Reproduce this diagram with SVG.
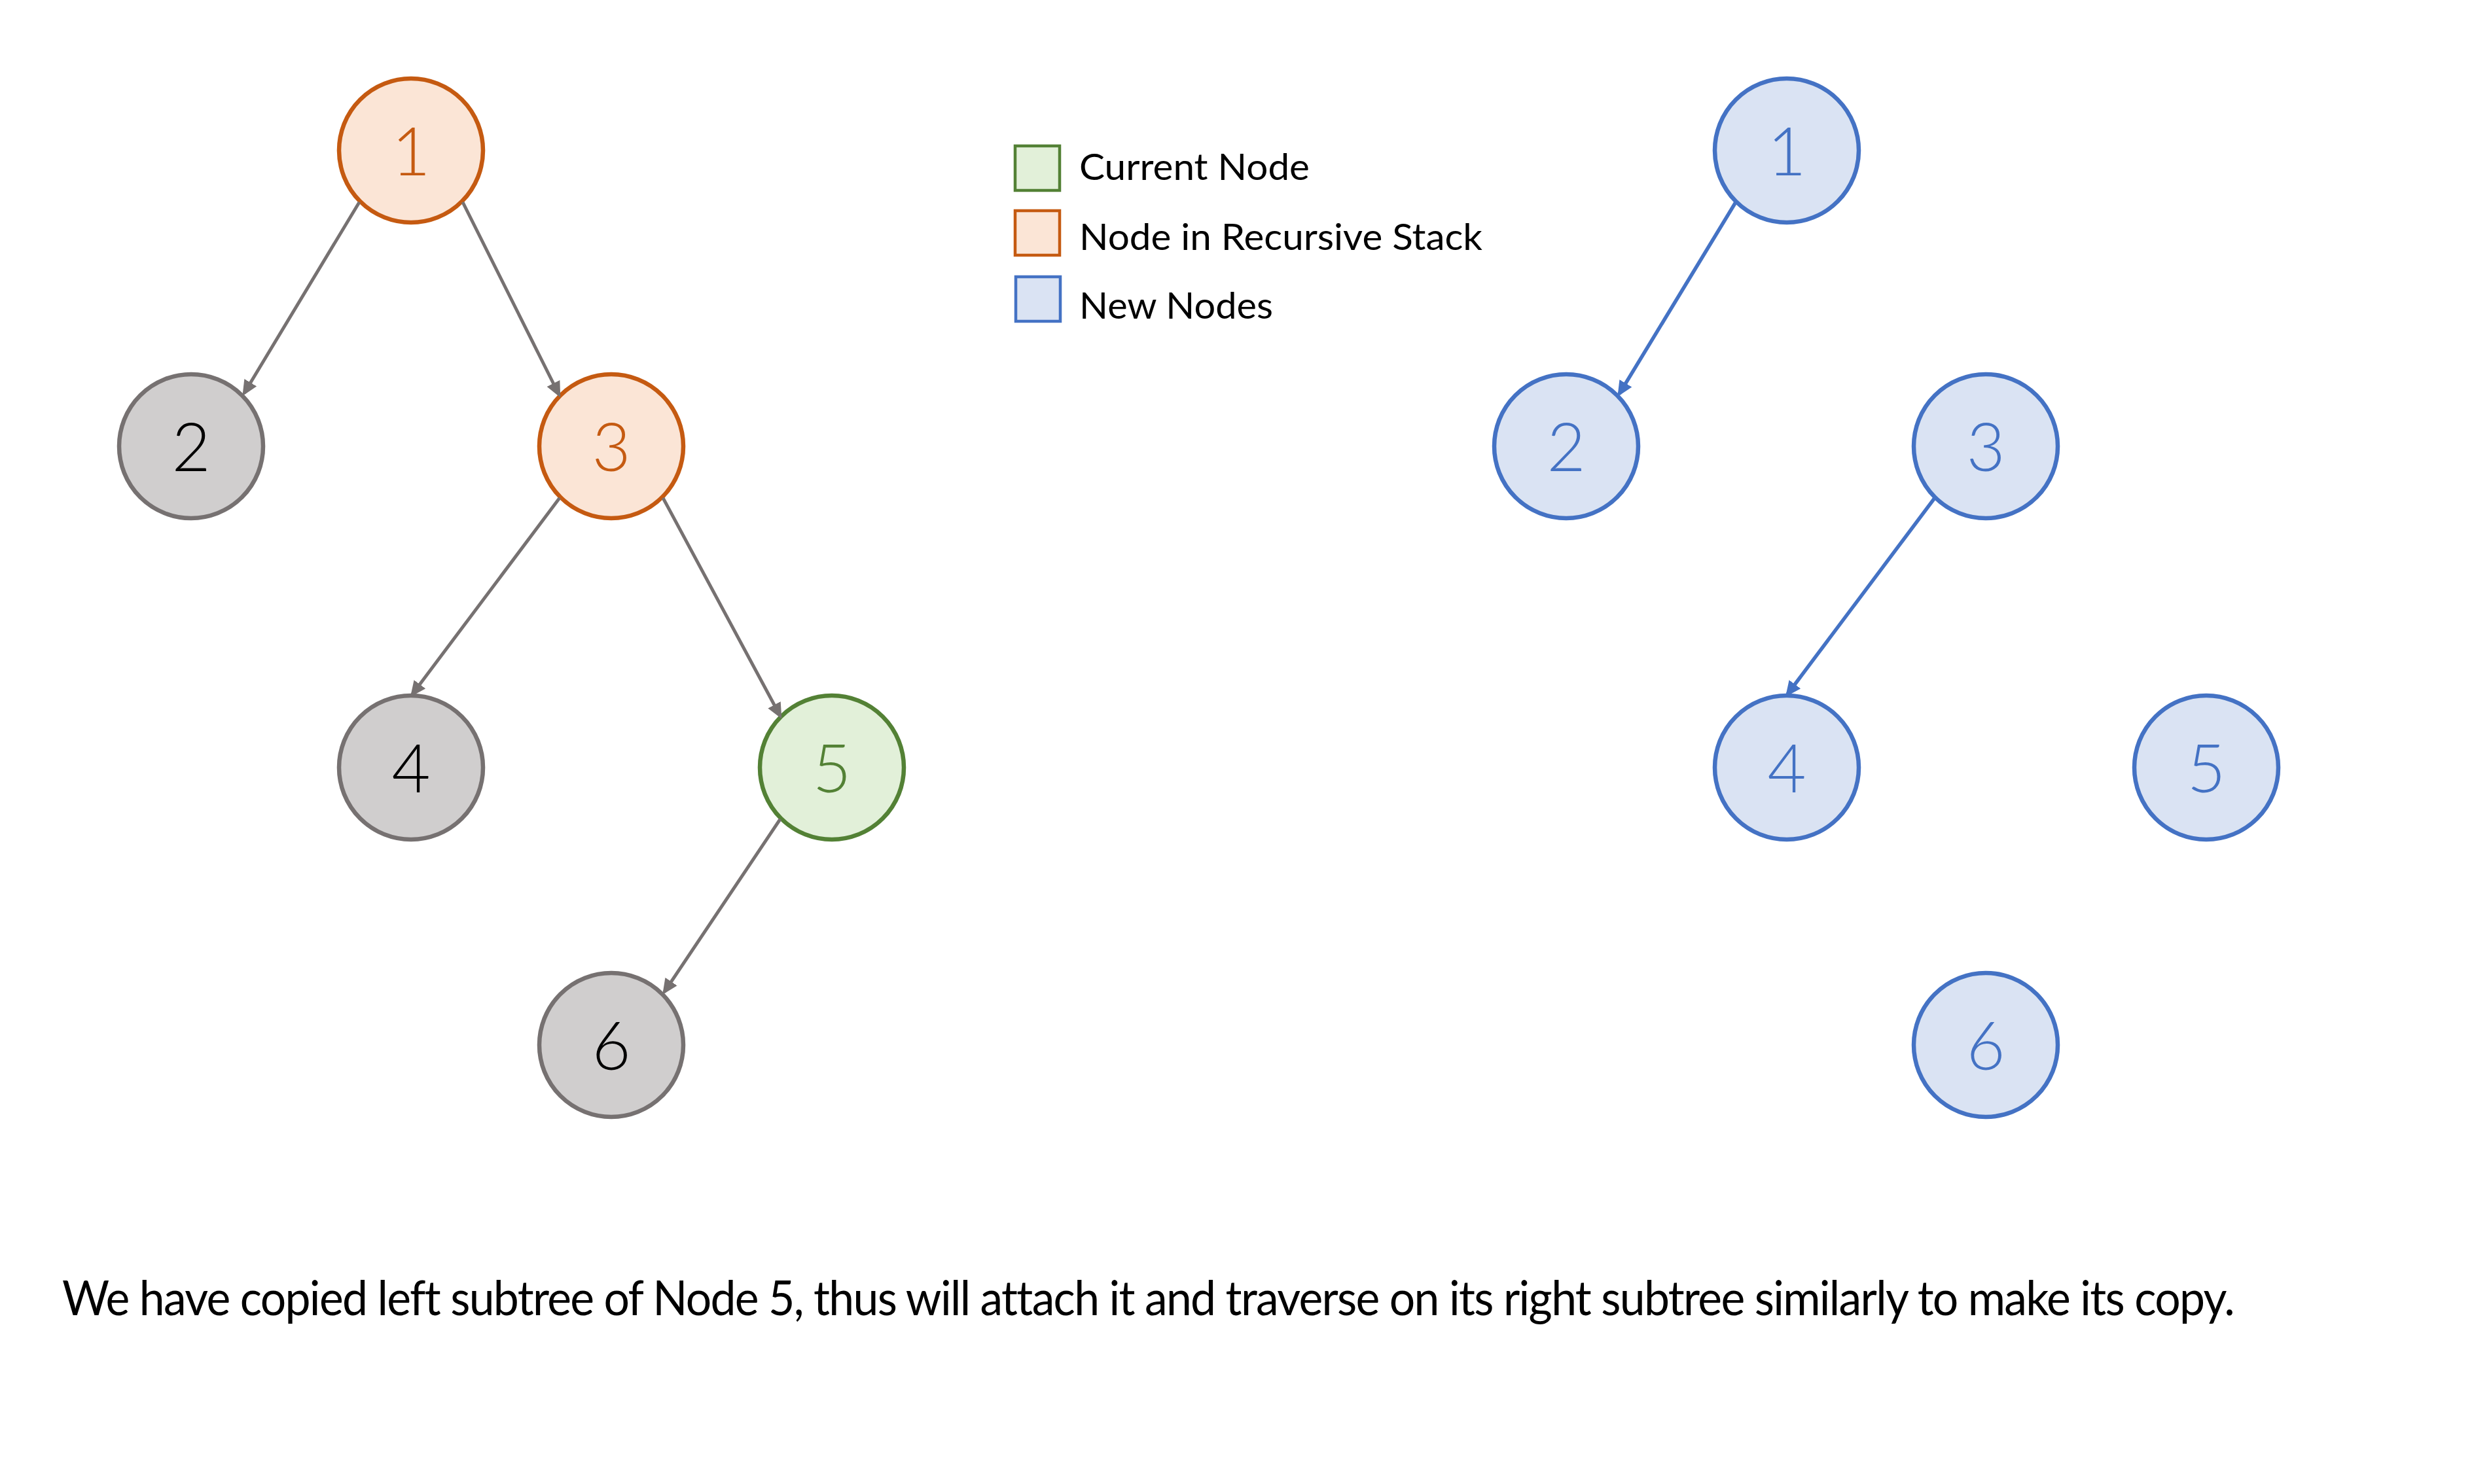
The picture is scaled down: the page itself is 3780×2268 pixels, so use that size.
<svg xmlns="http://www.w3.org/2000/svg" width="3780" height="2268" viewBox="0 0 3780 2268">
<defs>
<style>
.n circle{stroke-width:6.5}
.gray circle{fill:#D0CECE;stroke:#767171}
.gray text{fill:#000000}
.orange circle{fill:#FBE5D6;stroke:#C55A11}
.orange text{fill:#C55A11}
.green circle{fill:#E2F0D9;stroke:#538135}
.green text{fill:#538135}
.blue circle{fill:#DAE3F3;stroke:#4472C4}
.blue text{fill:#4472C4}
.n text{font-family:Lato,"Open Sans","Liberation Sans",sans-serif;font-weight:300;font-size:102px;text-anchor:middle}
.lg text{font-family:Lato,"Open Sans","Liberation Sans",sans-serif;font-size:56px;fill:#000000}
.lg rect{stroke-width:4.5}
.eg{stroke:#767171;stroke-width:5;fill:none;marker-end:url(#ag)}
.eb{stroke:#4472C4;stroke-width:5.5;fill:none;marker-end:url(#ab)}
.cap{font-family:Lato,"Open Sans","Liberation Sans",sans-serif;font-size:74px;letter-spacing:-1.8px;fill:#000000}
</style>
<marker id="ag" markerUnits="userSpaceOnUse" markerWidth="24" markerHeight="22" viewBox="0 0 24 22" refX="19" refY="11" orient="auto">
<path d="M0,0 L24,11 L0,22 z" fill="#767171"/>
</marker>
<marker id="ab" markerUnits="userSpaceOnUse" markerWidth="24" markerHeight="22" viewBox="0 0 24 22" refX="19" refY="11" orient="auto">
<path d="M0,0 L24,11 L0,22 z" fill="#4472C4"/>
</marker>
</defs>
<rect width="3780" height="2268" fill="#FFFFFF"/>

<g id="left-1" class="n orange"><circle cx="628" cy="230" r="110"/><text x="628" y="268">1</text></g>
<g id="left-2" class="n gray"><circle cx="292" cy="682" r="110"/><text x="292" y="720">2</text></g>
<g id="left-3" class="n orange"><circle cx="934" cy="682" r="110"/><text x="934" y="720">3</text></g>
<g id="left-4" class="n gray"><circle cx="628" cy="1173" r="110"/><text x="628" y="1211">4</text></g>
<g id="left-5" class="n green"><circle cx="1271" cy="1173" r="110"/><text x="1271" y="1211">5</text></g>
<g id="left-6" class="n gray"><circle cx="934" cy="1597" r="110"/><text x="934" y="1635">6</text></g>

<g id="right-1" class="n blue"><circle cx="2730" cy="230" r="110"/><text x="2730" y="268">1</text></g>
<g id="right-2" class="n blue"><circle cx="2393" cy="682" r="110"/><text x="2393" y="720">2</text></g>
<g id="right-3" class="n blue"><circle cx="3034" cy="682" r="110"/><text x="3034" y="720">3</text></g>
<g id="right-4" class="n blue"><circle cx="2730" cy="1173" r="110"/><text x="2730" y="1211">4</text></g>
<g id="right-5" class="n blue"><circle cx="3371" cy="1173" r="110"/><text x="3371" y="1211">5</text></g>
<g id="right-6" class="n blue"><circle cx="3034" cy="1597" r="110"/><text x="3034" y="1635">6</text></g>

<g id="connectors">
<line class="eg" x1="549" y1="309" x2="373" y2="601"/>
<line class="eg" x1="707" y1="309" x2="854" y2="603"/>
<line class="eg" x1="855" y1="761" x2="630" y2="1061"/>
<line class="eg" x1="1013" y1="761" x2="1192" y2="1094"/>
<line class="eg" x1="1192" y1="1252" x2="1015" y2="1516"/>
<line class="eb" x1="2652" y1="309" x2="2474" y2="602"/>
<line class="eb" x1="2956" y1="761" x2="2731" y2="1061"/>
</g>

<g id="legend" class="lg">
<g id="legend-current"><rect x="1551" y="223" width="68" height="68" fill="#E2F0D9" stroke="#538135"/><text x="1649" y="275" textLength="352" lengthAdjust="spacingAndGlyphs">Current Node</text></g>
<g id="legend-stack"><rect x="1551" y="322" width="68" height="68" fill="#FBE5D6" stroke="#C55A11"/><text x="1649" y="382" textLength="616" lengthAdjust="spacingAndGlyphs">Node in Recursive Stack</text></g>
<g id="legend-new"><rect x="1552" y="423" width="68" height="68" fill="#DAE3F3" stroke="#4472C4"/><text x="1649" y="487" textLength="296" lengthAdjust="spacingAndGlyphs">New Nodes</text></g>
</g>

<text id="caption" class="cap" x="95" y="2010" textLength="3318" lengthAdjust="spacingAndGlyphs">We have copied left subtree of Node 5, thus will attach it and traverse on its right subtree similarly to make its copy.</text>
</svg>
